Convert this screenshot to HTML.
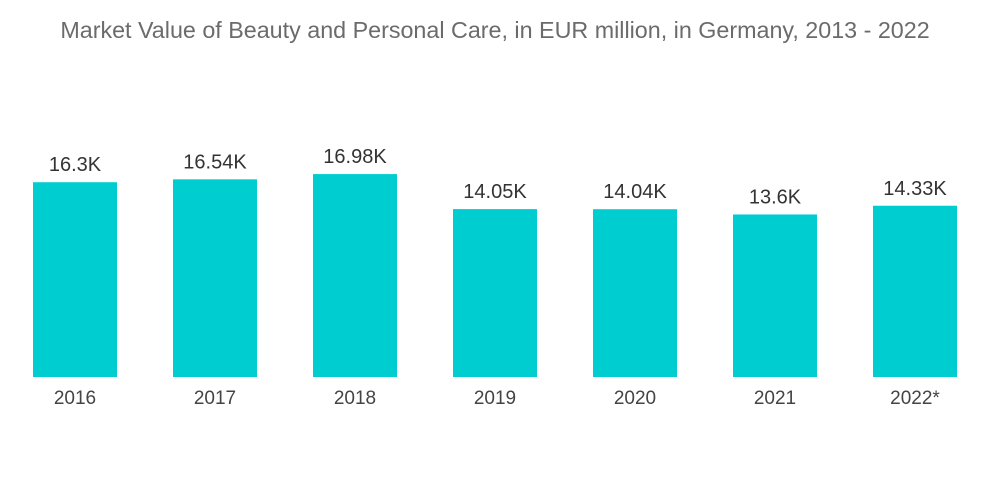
<!DOCTYPE html>
<html><head><meta charset="utf-8"><style>
body{margin:0;background:#fff;}
svg{display:block;font-family:"Liberation Sans",sans-serif;}
</style></head><body>
<svg width="1000" height="504" viewBox="0 0 1000 504">
<text x="495" y="38" text-anchor="middle" font-size="23.3" fill="#6b6b6b">Market Value of Beauty and Personal Care, in EUR million, in Germany, 2013 - 2022</text>
<g id="bars"></g>
</svg>
<script>
const categories=["2016","2017","2018","2019","2020","2021","2022*"];
const values=[16.3,16.54,16.98,14.05,14.04,13.6,14.33];
const valueLabels=["16.3K","16.54K","16.98K","14.05K","14.04K","13.6K","14.33K"];
const ns="http://www.w3.org/2000/svg";
const g=document.getElementById("bars");
const baseY=377,pxPerK=11.95,x0=33,step=140,bw=84;
function xPos(i){return x0+i*step;}
function yPos(v){return baseY-v*pxPerK;}
categories.forEach((c,i)=>{
 const r=document.createElementNS(ns,"rect");
 r.setAttribute("x",xPos(i));r.setAttribute("y",yPos(values[i]));
 r.setAttribute("width",bw);r.setAttribute("height",baseY-yPos(values[i]));
 r.setAttribute("fill","#00cdd0");
 
 
 g.appendChild(r);
 const t=document.createElementNS(ns,"text");
 t.setAttribute("x",xPos(i)+bw/2);t.setAttribute("y",yPos(values[i])-11);
 t.setAttribute("text-anchor","middle");t.setAttribute("font-size","20");t.setAttribute("fill","#333");
 t.textContent=valueLabels[i];
 
 
 g.appendChild(t);
 const l=document.createElementNS(ns,"text");
 l.setAttribute("x",xPos(i)+bw/2);l.setAttribute("y",404);
 l.setAttribute("text-anchor","middle");l.setAttribute("font-size","19");l.setAttribute("fill","#444");
 l.textContent=c;
 
 
 g.appendChild(l);
});
</script>
</body></html>
